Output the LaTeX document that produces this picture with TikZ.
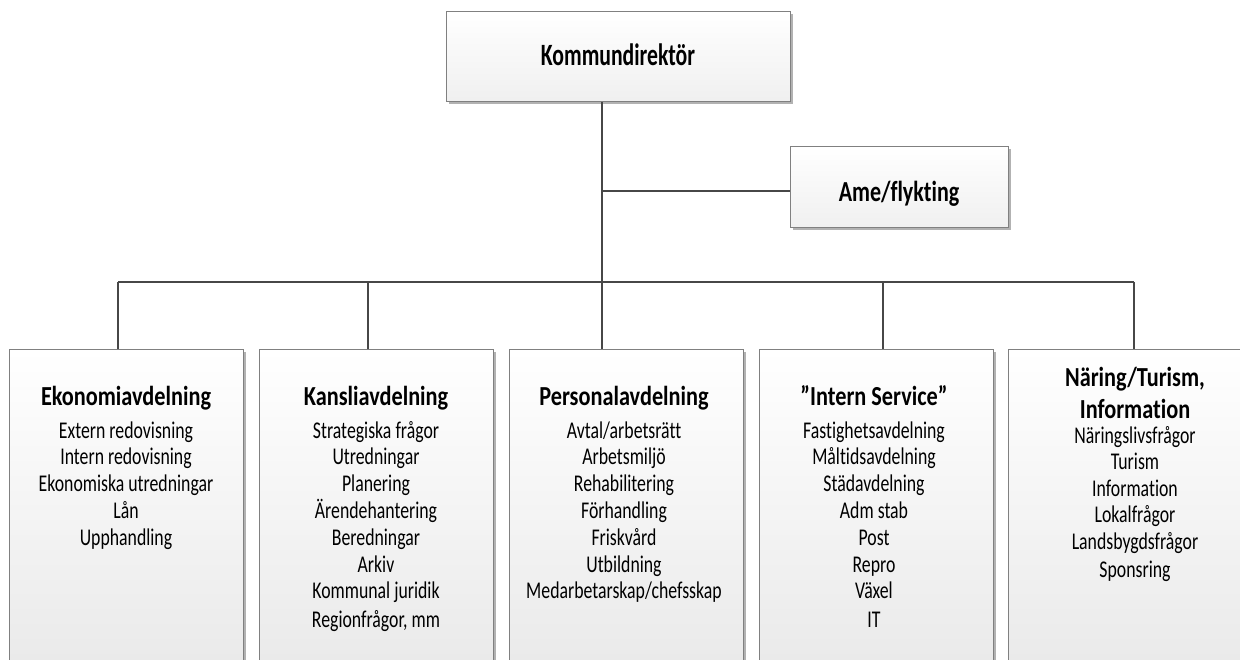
\documentclass[tikz,border=0pt]{standalone}
\usepackage{fontspec}
\setmainfont{Carlito}[Ligatures=NoCommon]
\usepackage{graphicx}
\usetikzlibrary{shadows}
\newcommand\bigttl[1]{\scalebox{0.70}[1]{\fontsize{31}{34}\selectfont\bfseries #1}}
\newcommand\amettl[1]{\scalebox{0.76}[1]{\fontsize{29}{32}\selectfont\bfseries #1}}
\newcommand\deptttl[1]{\scalebox{0.81}[1]{\fontsize{27.5}{30}\selectfont\bfseries #1}}
\newcommand\deptitem[1]{\scalebox{0.74}[1]{\fontsize{24}{26}\selectfont #1}}
\begin{document}
\begin{tikzpicture}[x=1pt,y=-1pt,
  box/.style={draw=black!50, line width=0.9pt, top color=white, bottom color=black!9, inner sep=0pt,
    drop shadow={shadow xshift=3pt, shadow yshift=-3pt, fill=black!30, opacity=1}},
  topbox/.style={box, bottom color=black!6},
  conn/.style={draw=black!72, line width=1.4pt},
  txt/.style={inner sep=0pt, anchor=base}]
\useasboundingbox (0,0) rectangle (1240,660);

% top boxes
\node[topbox, minimum width=344pt, minimum height=90pt, anchor=north west] (kd) at (446,11) {};
\node[topbox, minimum width=218pt, minimum height=81pt, anchor=north west] (am) at (790,146) {};
\node[txt] (kdt) at (618,66) {\bigttl{Kommundirektör}};
\node[txt] (amt) at (899,202) {\amettl{Ame/flykting}};

% department boxes
\node[box, minimum width=234pt, minimum height=340pt, anchor=north west] (b1) at (9,349) {};
\node[box, minimum width=234pt, minimum height=340pt, anchor=north west] (b2) at (259,349) {};
\node[box, minimum width=234pt, minimum height=340pt, anchor=north west] (b3) at (509,349) {};
\node[box, minimum width=234pt, minimum height=340pt, anchor=north west] (b4) at (759,349) {};
\node[box, minimum width=254pt, minimum height=340pt, anchor=north west] (b5) at (1008,349) {};

% connectors
\coordinate (tr) at (602,282);
\coordinate (aj) at (602,191);
\coordinate (d1) at (118,282);
\coordinate (d2) at (368,282);
\coordinate (d4) at (883,282);
\coordinate (d5) at (1134,282);
\draw[conn] (kd.south -| tr) -- (tr);
\draw[conn] (aj) -- (aj -| am.west);
\draw[conn] (d1) -- (d5);
\foreach \d/\b in {d1/b1,d2/b2,tr/b3,d4/b4,d5/b5}
  \draw[conn] (\d) -- (\d |- \b.north);

% box 1
\node[txt] (b1t) at (126,405) {\deptttl{Ekonomiavdelning}};
\foreach \lbl [count=\i from 0] in {Extern redovisning, Intern redovisning, Ekonomiska utredningar, Lån, Upphandling}
  \node[txt] (b1i\i) at (126,{438+26.8*\i}) {\deptitem{\lbl}};

% box 2
\node[txt] (b2t) at (376,405) {\deptttl{Kansliavdelning}};
\foreach \lbl [count=\i from 0] in {Strategiska frågor, Utredningar, Planering, Ärendehantering, Beredningar, Arkiv, Kommunal juridik}
  \node[txt] (b2i\i) at (376,{438+26.8*\i}) {\deptitem{\lbl}};
\node[txt] (b2i7) at (376,627) {\deptitem{Regionfrågor, mm}};

% box 3
\node[txt] (b3t) at (624,405) {\deptttl{Personalavdelning}};
\foreach \lbl [count=\i from 0] in {Avtal/arbetsrätt, Arbetsmiljö, Rehabilitering, Förhandling, Friskvård, Utbildning, Medarbetarskap/chefsskap}
  \node[txt] (b3i\i) at (624,{438+26.8*\i}) {\deptitem{\lbl}};

% box 4
\node[txt] (b4t) at (874,405) {\deptttl{”Intern Service”}};
\foreach \lbl [count=\i from 0] in {Fastighetsavdelning, Måltidsavdelning, Städavdelning, Adm stab, Post, Repro, Växel}
  \node[txt] (b4i\i) at (874,{438+26.8*\i}) {\deptitem{\lbl}};
\node[txt] (b4i7) at (874,627) {\deptitem{IT}};

% box 5
\node[txt] (b5t) at (1135,386) {\deptttl{Näring/Turism,}};
\node[txt] (b5u) at (1135,418) {\deptttl{Information}};
\foreach \lbl [count=\i from 0] in {Näringslivsfrågor, Turism, Information, Lokalfrågor, Landsbygdsfrågor}
  \node[txt] (b5i\i) at (1135,{443+26.6*\i}) {\deptitem{\lbl}};
\node[txt] (b5i5) at (1135,577) {\deptitem{Sponsring}};
\end{tikzpicture}
\end{document}
